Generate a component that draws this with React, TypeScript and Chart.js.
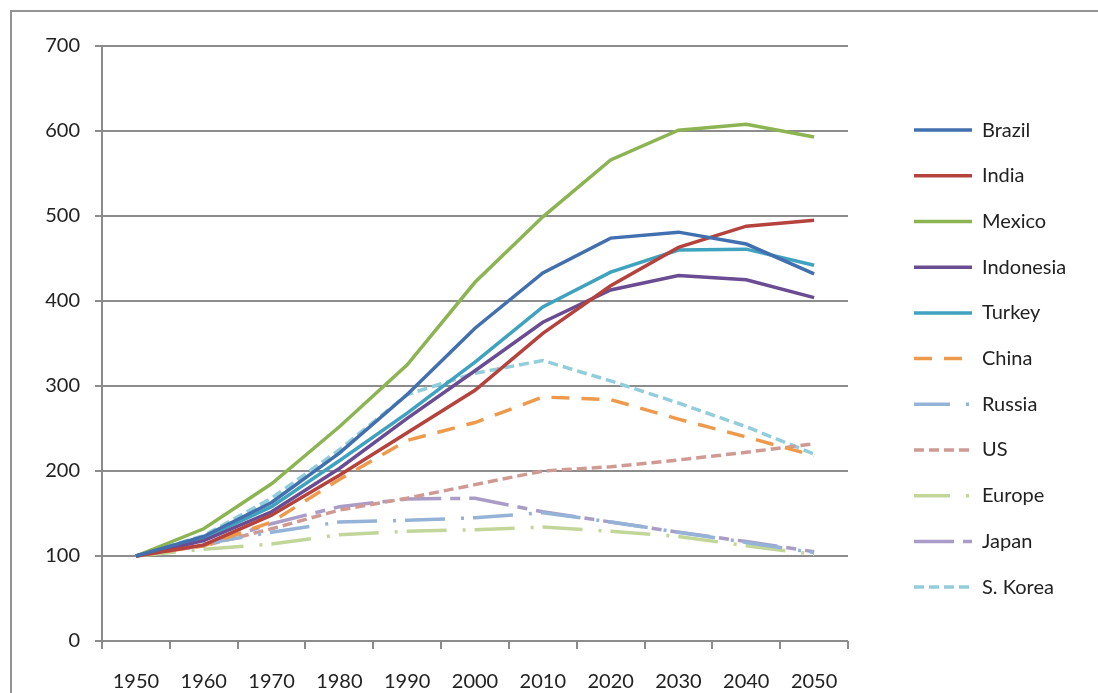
import React, { useEffect, useRef } from "react";
import { Chart, registerables } from "chart.js";
Chart.register(...registerables);

const years = ["1950", "1960", "1970", "1980", "1990", "2000", "2010", "2020", "2030", "2040", "2050"];
const yTickValues = [0, 100, 200, 300, 400, 500, 600, 700];

const brazil = [100, 123, 163, 221, 290, 368, 433, 474, 481, 467, 432];
const india = [100, 113, 148, 195, 245, 295, 362, 418, 463, 488, 495];
const mexico = [100, 132, 185, 252, 325, 422, 499, 566, 601, 608, 593];
const indonesia = [100, 118, 152, 203, 262, 318, 375, 413, 430, 425, 404];
const turkey = [100, 121, 158, 212, 268, 328, 393, 434, 460, 461, 442];
const china = [100, 112, 140, 190, 236, 257, 287, 284, 261, 240, 218];
const russia = [100, 114, 128, 140, 142, 145, 151, 140, 128, 116, 104];
const us = [100, 112, 132, 154, 168, 184, 200, 205, 213, 222, 232];
const europe = [100, 108, 114, 125, 129, 131, 134, 129, 123, 112, 102];
const japan = [100, 113, 138, 158, 167, 168, 152, 140, 128, 117, 105];
const sKorea = [100, 124, 168, 225, 290, 315, 330, 306, 280, 252, 220];

const GRID = "#8c8c8c";
const TEXT = "#222222";
const LEGEND_WIDTH = 200;

const legendWidthPlugin = {
  id: "legendWidth",
  beforeLayout(chart: any) {
    const lg = chart.legend;
    if (lg && !lg.__fixedWidth) {
      const orig = lg.fit.bind(lg);
      lg.fit = () => {
        orig();
        lg.width = LEGEND_WIDTH;
      };
      lg.__fixedWidth = true;
    }
  },
};

export default function App() {
  const ref = useRef<HTMLCanvasElement>(null);
  useEffect(() => {
    const font = { family: "Lato", size: 20 };
    const mk = (label: string, data: number[], color: string, dash: number[], legendOffset: number) => ({
      label,
      data,
      borderColor: color,
      backgroundColor: color,
      borderWidth: 3.5,
      borderDash: dash,
      pointRadius: 0,
      tension: 0,
      fill: false,
      legendOffset,
    });
    const defaultGen = (Chart.defaults as any).plugins.legend.labels.generateLabels;
    const chart = new Chart(ref.current as HTMLCanvasElement, {
      type: "line",
      data: {
        labels: years,
        datasets: [
          mk("Brazil", brazil, "#4270AE", [], 0),
          mk("India", india, "#B5423D", [], 0),
          mk("Mexico", mexico, "#8DB452", [], 0),
          mk("Indonesia", indonesia, "#6A4C93", [], 0),
          mk("Turkey", turkey, "#3FA2BF", [], 0),
          mk("China", china, "#EE9A4D", [18, 12], 0),
          mk("Russia", russia, "#95B3D7", [40, 16, 3, 9], 4),
          mk("US", us, "#D09A94", [10, 5], 0),
          mk("Europe", europe, "#C2D69A", [40, 16, 3, 9], 4),
          mk("Japan", japan, "#A99CC6", [40, 9, 10, 9], 0),
          mk("S. Korea", sKorea, "#92CDDC", [10, 5], 0),
        ],
      },
      plugins: [legendWidthPlugin],
      options: {
        responsive: false,
        animation: false,
        layout: { padding: { top: 46, left: 20, right: 9.7, bottom: 0 } },
        plugins: {
          tooltip: { enabled: false },
          legend: {
            position: "right",
            align: "start",
            title: { display: true, text: " ", font: { size: 12 }, padding: { top: 34, bottom: 0 } },
            labels: {
              usePointStyle: true,
              pointStyle: "line",
              pointStyleWidth: 58,
              padding: 25.7,
              font,
              color: TEXT,
              generateLabels: (c: any) => {
                const items = defaultGen(c);
                items.forEach((it: any) => {
                  const ds = c.data.datasets[it.datasetIndex];
                  it.lineDash = ds.borderDash;
                  it.lineDashOffset = ds.legendOffset;
                  it.strokeStyle = ds.borderColor;
                  it.lineWidth = 3.5;
                  it.pointStyle = "line";
                });
                return items;
              },
            },
          },
        },
        scales: {
          x: {
            type: "category",
            offset: true,
            grid: { display: true, drawOnChartArea: false, drawTicks: true, tickLength: 8, color: GRID, lineWidth: 2, offset: true },
            border: { display: false },
            ticks: { padding: 21, font, color: TEXT, maxRotation: 0, autoSkip: false },
            afterFit: (s: any) => { s.height = 52; },
          },
          y: {
            min: 0,
            max: 700,
            afterBuildTicks: (s: any) => { s.ticks = yTickValues.map((v) => ({ value: v })); },
            ticks: { padding: 15, font, color: TEXT },
            grid: { color: GRID, lineWidth: 2, tickLength: 7 },
            border: { display: true, color: GRID, width: 2 },
            afterFit: (s: any) => { s.width = 82; },
          },
          y2: {
            position: "right",
            display: true,
            grid: { display: false },
            border: { display: false },
            ticks: { display: false },
            afterFit: (s: any) => { s.width = 40.3; },
          },
        },
      },
    } as any);
    return () => chart.destroy();
  }, []);

  return (
    <div style={{ position: "absolute", left: 0, top: 0, width: 1098, height: 693, overflow: "hidden", background: "#fff" }}>
      <div style={{ position: "absolute", left: 10, top: 10, width: 1100, height: 720, border: "2px solid #939393" }} />
      <canvas ref={ref} width={1098} height={693} style={{ position: "absolute", left: 0, top: 0 }} />
    </div>
  );
}
